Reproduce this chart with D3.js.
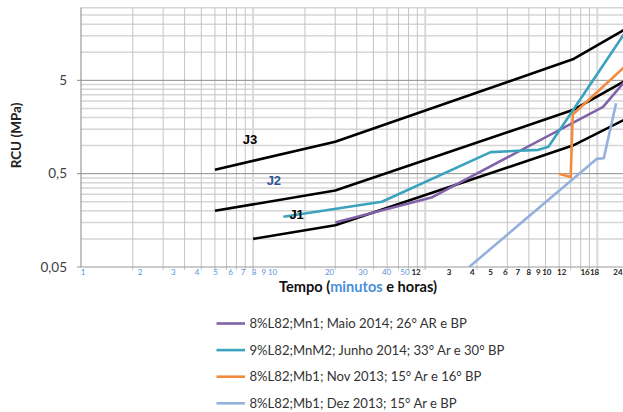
<!DOCTYPE html>
<html>
<head>
<meta charset="utf-8">
<script src="https://cdn.jsdelivr.net/npm/d3@7"></script>
<style>
  body { margin: 0; background: #fff; }
  svg { display: block; font-family: Lato, 'Open Sans', sans-serif; }
</style>
</head>
<body>
<svg id="chart" width="623" height="412"></svg>
<script>
// limit curves J1..J3 (time in minutes, RCU in MPa)
var limitNames = ['J3', 'J2', 'J1'];
var limitTimes = [
  [6, 30, 720, 1440],
  [6, 30, 720, 1440],
  [10, 30, 720, 1440]
];
var limitValues = [
  [0.55, 1.1, 8.4, 17.5],
  [0.2, 0.33, 2.4, 4.9],
  [0.1, 0.14, 1.0, 1.9]
];
var limitLabelColors = ['#000', '#2f5597', '#000'];

// test series
var seriesNames = [
  '8%L82;Mn1; Maio 2014; 26° AR e BP',
  '9%L82;MnM2; Junho 2014; 33° Ar e 30° BP',
  '8%L82;Mb1; Nov 2013; 15° Ar e 16° BP',
  '8%L82;Mb1; Dez 2013; 15° Ar e BP'
];
var seriesColors = ['#7f62a8', '#3ba3bd', '#f38b3c', '#94b0dc'];
var seriesTimes = [
  [30, 110, 1080, 1440],
  [15, 56, 240, 455, 520, 1440],
  [600, 700, 720, 1440],
  [180, 990, 1090, 1285]
];
var seriesValues = [
  [0.15, 0.28, 2.6, 4.85],
  [0.173, 0.25, 0.85, 0.9, 0.97, 16],
  [0.5, 0.46, 2.15, 7.0],
  [0.05, 0.72, 0.73, 2.84]
];

// axis labels
var yTickValues = [0.05, 0.5, 5];
var yTickLabels = ['0,05', '0,5', '5'];
var minuteLabels = [1, 2, 3, 4, 5, 6, 7, 8, 9, 10, 20, 30, 40, 50];
var hourLabelValues = [2, 3, 4, 5, 6, 7, 8, 9, 10, 12, 16, 18, 24];
var hourLabelTexts = ['12', '3', '4', '5', '6', '7', '8', '9', '10', '12', '16', '18', '24'];

var Chart = {
  width: 623,
  height: 412,
  plot: { left: 81, top: 7.7, bottom: 267, right: 624.6 },

  build: function () {
    var p = this.plot;
    var svg = d3.select('#chart');

    var x = d3.scaleLog().domain([1, 1440]).range([p.left, p.right]);
    var y = d3.scaleLog().domain([0.05, 30]).range([p.bottom, p.top]);
    // the time labels sit on their own row, spaced apart from the grid
    var minuteScale = d3.scaleLog().domain([1, 50]).range([83, 405]);
    var hourScale = d3.scaleLog().domain([3, 24]).range([449, 618]);

    svg.append('defs').append('clipPath').attr('id', 'clip')
      .append('rect')
      .attr('x', p.left).attr('y', p.top)
      .attr('width', p.right - p.left).attr('height', p.bottom - p.top);

    // grid
    var yGrid = [];
    [0.05, 0.5, 5].forEach(function (b) {
      d3.range(1, 10).forEach(function (k) {
        if (b * k <= 30.001) yGrid.push({ v: b * k, major: k === 1 });
      });
    });
    var xGrid = x.ticks().map(function (t) {
      return { v: t, major: [10, 100, 1000].indexOf(t) >= 0 };
    });

    var grid = svg.append('g');
    grid.selectAll('.hgrid').data(yGrid.filter(function (d) { return !d.major; }))
      .enter().append('line')
      .attr('x1', p.left).attr('x2', p.right)
      .attr('y1', function (d) { return y(d.v); }).attr('y2', function (d) { return y(d.v); })
      .attr('stroke', '#d6d6d6').attr('stroke-width', 1.5);
    grid.selectAll('.vgrid').data(xGrid.filter(function (d) { return d.v > 1; }))
      .enter().append('line')
      .attr('y1', p.top).attr('y2', p.bottom + 3)
      .attr('x1', function (d) { return x(d.v); }).attr('x2', function (d) { return x(d.v); })
      .attr('stroke', function (d) { return d.major ? '#d9d9d9' : '#c4c4c4'; })
      .attr('stroke-width', function (d) { return d.major ? 2 : 1; });
    grid.selectAll('.hmajor').data(yGrid.filter(function (d) { return d.major && d.v > 0.05; }))
      .enter().append('line')
      .attr('x1', p.left - 4).attr('x2', p.right)
      .attr('y1', function (d) { return y(d.v); }).attr('y2', function (d) { return y(d.v); })
      .attr('stroke', '#8c8c8c').attr('stroke-width', 1);

    // axes lines
    svg.append('line').attr('x1', p.left).attr('x2', p.left)
      .attr('y1', p.top).attr('y2', p.bottom)
      .attr('stroke', '#9a9a9a').attr('stroke-width', 1.2);
    svg.append('line').attr('x1', p.left - 4).attr('x2', p.right)
      .attr('y1', p.bottom).attr('y2', p.bottom)
      .attr('stroke', '#9a9a9a').attr('stroke-width', 1.2);

    // y tick labels
    svg.append('g').selectAll('text').data(yTickValues).enter().append('text')
      .attr('x', 67).attr('y', function (d) { return y(d); })
      .attr('dy', '0.35em').attr('text-anchor', 'end')
      .attr('font-size', 13.5).attr('fill', '#404040')
      .text(function (d, i) { return yTickLabels[i]; });

    // x labels: minutes (blue) and hours (black)
    svg.append('g').selectAll('text').data(minuteLabels).enter().append('text')
      .attr('x', function (d) { return minuteScale(d); }).attr('y', 275)
      .attr('text-anchor', 'middle').attr('font-size', 8).attr('fill', '#5b93d6')
      .text(function (d) { return d; });
    svg.append('g').selectAll('text').data(hourLabelValues).enter().append('text')
      .attr('x', function (d) { return hourScale(d); }).attr('y', 275)
      .attr('text-anchor', 'middle').attr('font-size', 8).attr('font-weight', 'bold').attr('fill', '#222')
      .text(function (d, i) { return hourLabelTexts[i]; });

    // axis titles
    svg.append('text')
      .attr('transform', 'translate(21,135.5) rotate(-90)')
      .attr('text-anchor', 'middle').attr('font-size', 13.5).attr('font-weight', 'bold').attr('fill', '#222')
      .text('RCU (MPa)');
    var xt = svg.append('text')
      .attr('x', 358).attr('y', 292)
      .attr('text-anchor', 'middle').attr('font-size', 14.6).attr('font-weight', 'bold').attr('fill', '#111');
    xt.append('tspan').text('Tempo (');
    xt.append('tspan').attr('fill', '#4a8fd9').text('minutos');
    xt.append('tspan').text(' e horas)');

    // lines
    var line = d3.line()
      .x(function (d) { return x(d[0]); })
      .y(function (d) { return y(d[1]); });
    var plotG = svg.append('g').attr('clip-path', 'url(#clip)');

    plotG.selectAll('.limit').data(limitNames).enter().append('path')
      .attr('d', function (d, i) { return line(d3.zip(limitTimes[i], limitValues[i])); })
      .attr('fill', 'none').attr('stroke', '#000').attr('stroke-width', 2.6)
      .attr('stroke-linejoin', 'round');

    plotG.selectAll('.series').data(seriesNames).enter().append('path')
      .attr('d', function (d, i) { return line(d3.zip(seriesTimes[i], seriesValues[i])); })
      .attr('fill', 'none').attr('stroke', function (d, i) { return seriesColors[i]; })
      .attr('stroke-width', 2.6).attr('stroke-linejoin', 'round');

    // J labels, placed above the start of each limit curve
    var labelPos = [[9.6, 1.17], [13.2, 0.418], [17.9, 0.185]];
    svg.append('g').selectAll('text').data(limitNames).enter().append('text')
      .attr('x', function (d, i) { return x(labelPos[i][0]); })
      .attr('y', function (d, i) { return y(labelPos[i][1]); })
      .attr('dy', '0.35em').attr('text-anchor', 'middle')
      .attr('font-family', 'Liberation Sans, Arial, sans-serif')
      .attr('font-size', 13).attr('font-weight', 'bold')
      .attr('fill', function (d, i) { return limitLabelColors[i]; })
      .text(function (d) { return d; });

    // legend
    var legend = svg.append('g').selectAll('g').data(seriesNames).enter().append('g')
      .attr('transform', function (d, i) { return 'translate(216.5,' + (323.5 + i * 26.6) + ')'; });
    legend.append('line').attr('x1', 0).attr('x2', 28.5)
      .attr('stroke', function (d, i) { return seriesColors[i]; }).attr('stroke-width', 2.6);
    legend.append('text').attr('x', 33).attr('dy', '0.36em')
      .attr('font-size', 13.1).attr('fill', '#333')
      .text(function (d) { return d; });
  },

  init: function () {
    this.build();
  }
};

Chart.init();
</script>
</body>
</html>
